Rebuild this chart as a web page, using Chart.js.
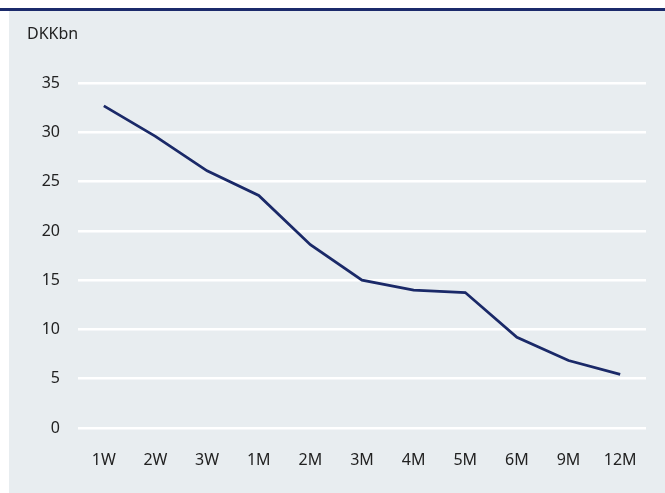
<!DOCTYPE html>
<html>
<head>
<meta charset="utf-8">
<script src="https://cdn.jsdelivr.net/npm/chart.js@4"></script>
<style>
  html, body { margin: 0; padding: 0; background: #fff; }
  .topbar { position: absolute; left: 0; top: 8px; width: 665px; height: 3px; background: #1b2a6b; }
  .panel { position: absolute; left: 9px; top: 11px; width: 656px; height: 482px; background: #e8edf0; }
</style>
</head>
<body>
<div class="topbar"></div>
<div class="panel"><canvas id="chart" width="656" height="482"></canvas></div>
<script>
const labels = ["1W", "2W", "3W", "1M", "2M", "3M", "4M", "5M", "6M", "9M", "12M"];
const values = [32.7, 29.6, 26.1, 23.6, 18.6, 15.0, 14.0, 13.75, 9.2, 6.85, 5.45];
const yTicks = [0, 5, 10, 15, 20, 25, 30, 35];
const unit = "DKKbn";

const navy = "#1a2968";
const textColor = "#222";
Chart.defaults.font.family = "'Noto Sans', sans-serif";
Chart.defaults.font.size = 16;
Chart.defaults.color = textColor;

new Chart(document.getElementById("chart"), {
  type: "line",
  data: {
    labels: labels,
    datasets: [{
      data: values,
      borderColor: navy,
      borderWidth: 2.8,
      pointRadius: 0,
      tension: 0,
      fill: false,
    }],
  },
  options: {
    responsive: false,
    animation: false,
    layout: { padding: { left: 18, right: 19, top: 0, bottom: 0 } },
    plugins: {
      legend: { display: false },
      tooltip: { enabled: false },
      title: {
        display: true,
        text: unit,
        align: "start",
        color: textColor,
        font: { size: 16, weight: "normal" },
        padding: { top: 14, bottom: 39 },
      },
    },
    scales: {
      x: {
        offset: true,
        grid: { display: false, drawTicks: false },
        border: { display: false },
        ticks: { padding: 23, maxRotation: 0, autoSkip: false },
        afterFit: (s) => { s.height = 65; },
      },
      y: {
        min: 0,
        max: 35,
        afterBuildTicks: (s) => { s.ticks = yTicks.map((v) => ({ value: v })); },
        grid: { color: "#ffffff", lineWidth: 2.5, drawTicks: false },
        border: { display: false },
        ticks: { padding: 18 },
        afterFit: (s) => { s.width = 51; },
      },
    },
  },
});
</script>
</body>
</html>
